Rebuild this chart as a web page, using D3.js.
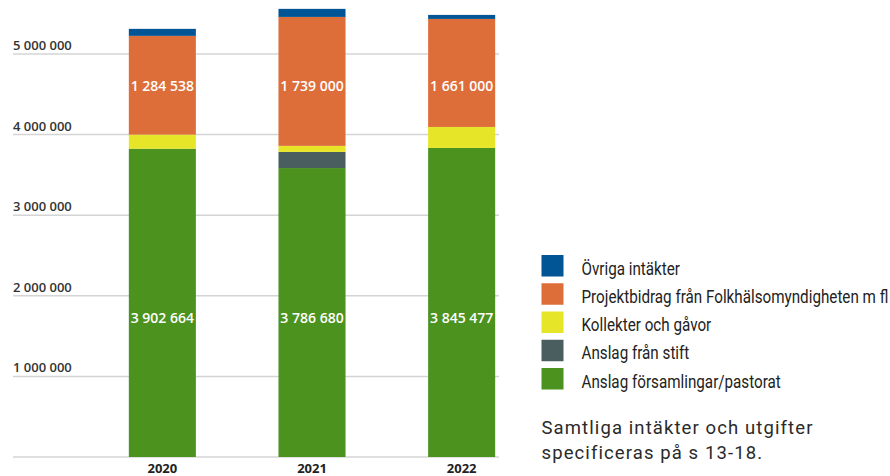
<!DOCTYPE html>
<html lang="sv">

<head>
    <meta charset="UTF-8">
    <title>Intäkter 2020-2022</title>
    <script src="https://d3js.org/d3.v7.min.js"></script>
    <style>
        body {
            margin: 0;
            background: #fff;
        }

        svg {
            display: block;
        }
    </style>
</head>

<body>
    <svg id="chart" width="890" height="476"></svg>

    <script>
        // data
        const years = ["2020", "2021", "2022"];
        const forsamlingar = [3825000, 3585000, 3835000];
        const stift = [0, 200000, 0];
        const kollekter = [175000, 75000, 260000];
        const projektbidrag = [1225000, 1600000, 1340000];
        const ovriga = [87000, 100000, 50000];

        // printed values inside the bars
        const forsamlingarLabels = [3902664, 3786680, 3845477];
        const projektbidragLabels = [1284538, 1739000, 1661000];

        const yTicks = [1000000, 2000000, 3000000, 4000000, 5000000];

        const seriesNames = [
            "Anslag församlingar/pastorat",
            "Anslag från stift",
            "Kollekter och gåvor",
            "Projektbidrag från Folkhälsomyndigheten m fl",
            "Övriga intäkter"
        ];
        const seriesValues = [forsamlingar, stift, kollekter, projektbidrag, ovriga];
        const colors = ["#4b921f", "#4a5e60", "#e6e528", "#dd6e3a", "#025594"];

        const footnote = ["Samtliga intäkter och utgifter", "specificeras på s 13-18."];

        function program() {
            const svg = d3.select("#chart");

            const sv = d3.formatLocale({ decimal: ",", thousands: " ", grouping: [3], currency: ["", " kr"] });
            const fmt = sv.format(",");

            const x = d3.scaleBand()
                .domain(years)
                .range([54, 570])
                .paddingInner(0.552)
                .paddingOuter(0.5);

            const y = d3.scaleLinear()
                .domain([0, 5000000])
                .range([457, 54]);

            // grid lines + tick labels
            const grid = svg.append("g");
            grid.selectAll("line")
                .data([0].concat(yTicks))
                .join("line")
                .attr("x1", 13)
                .attr("x2", 499)
                .attr("y1", d => y(d))
                .attr("y2", d => y(d))
                .attr("stroke", "#d4d4d4")
                .attr("stroke-width", 1.5);

            grid.selectAll("text")
                .data(yTicks)
                .join("text")
                .attr("x", 13)
                .attr("y", d => y(d) - 4)
                .attr("font-family", "Open Sans")
                .attr("font-weight", 600)
                .attr("font-size", 13)
                .attr("fill", "#333")
                .text(d => fmt(d));

            // stacked bars
            const table = years.map((yr, i) => {
                const row = { year: yr };
                seriesNames.forEach((s, k) => row[s] = seriesValues[k][i]);
                return row;
            });
            const stacked = d3.stack().keys(seriesNames)(table);

            svg.append("g")
                .selectAll("g")
                .data(stacked)
                .join("g")
                .attr("fill", (d, i) => colors[i])
                .selectAll("rect")
                .data(d => d)
                .join("rect")
                .attr("x", d => x(d.data.year))
                .attr("width", x.bandwidth())
                .attr("y", d => y(d[1]))
                .attr("height", d => y(d[0]) - y(d[1]));

            // value labels
            const labels = svg.append("g")
                .attr("font-family", "Open Sans")
                .attr("font-weight", 600)
                .attr("font-size", 14)
                .attr("fill", "#fff")
                .attr("text-anchor", "middle");

            labels.selectAll(".lg")
                .data(forsamlingarLabels)
                .join("text")
                .attr("class", "lg")
                .attr("x", (d, i) => x(years[i]) + x.bandwidth() / 2)
                .attr("y", y(1730000) + 5)
                .text(d => fmt(d));

            labels.selectAll(".lo")
                .data(projektbidragLabels)
                .join("text")
                .attr("class", "lo")
                .attr("x", (d, i) => x(years[i]) + x.bandwidth() / 2)
                .attr("y", y(4600000) + 5)
                .text(d => fmt(d));

            // year labels
            svg.append("g")
                .selectAll("text")
                .data(years)
                .join("text")
                .attr("x", d => x(d) + x.bandwidth() / 2)
                .attr("y", 473)
                .attr("text-anchor", "middle")
                .attr("font-family", "Open Sans")
                .attr("font-weight", 700)
                .attr("font-size", 13)
                .attr("fill", "#222")
                .text(d => d);

            // legend, top item first
            const legendOrder = d3.range(seriesNames.length).reverse();
            const legend = svg.append("g");
            const items = legend.selectAll("g")
                .data(legendOrder)
                .join("g")
                .attr("transform", (d, i) => `translate(541.5, ${255 + i * 28.25})`);

            items.append("rect")
                .attr("width", 22)
                .attr("height", 21.5)
                .attr("fill", d => colors[d]);

            const legendText = items.append("text")
                .attr("transform", "translate(40, 19.5)")
                .attr("font-family", "Roboto")
                .attr("font-size", 19)
                .attr("fill", "#222")
                .text(d => seriesNames[d]);

            // the original uses a condensed face, squeeze the text to match
            const longest = d3.max(legendText.nodes(), n => n.getComputedTextLength());
            const squeeze = 307 / longest;
            legendText.attr("transform", `translate(40, 19.5) scale(${squeeze}, 1)`);

            // footnote
            svg.append("g")
                .selectAll("text")
                .data(footnote)
                .join("text")
                .attr("x", 541.5)
                .attr("y", (d, i) => 433.5 + i * 25)
                .attr("font-family", "Roboto")
                .attr("font-size", 18.5)
                .attr("letter-spacing", 1.1)
                .attr("fill", "#2a2a2a")
                .text(d => d);
        }

        program();
    </script>
</body>

</html>
